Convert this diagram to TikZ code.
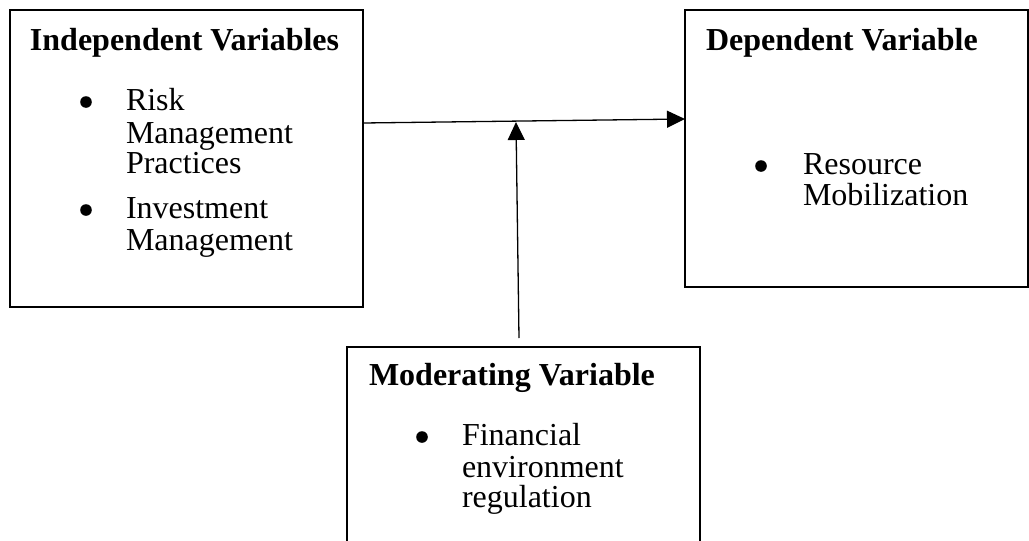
\documentclass[tikz,border=0pt]{standalone}
\usepackage{fontspec}
\setmainfont{Liberation Serif}
\usetikzlibrary{arrows.meta}

\tikzstyle{box} = [draw=black, line width=0.6pt, inner sep=0, outer sep=0]
\tikzstyle{txt} = [anchor=base west, inner sep=0, outer sep=0, font=\fontsize{16}{19}\selectfont]
\tikzstyle{head} = [txt, font=\fontsize{16}{19}\selectfont\bfseries]
\tikzstyle{dot} = [circle, fill=black, inner sep=0, outer sep=0, minimum size=5.8pt]
\tikzstyle{link} = [-{Triangle[length=9pt,width=8.5pt]}, draw=black, line width=0.65pt]

\begin{document}
\begin{tikzpicture}[x=0.5pt, y=-0.5pt]

\clip (0,0) rectangle (1029,541);

% BOXES
\node [box, minimum width=176.5pt, minimum height=148.5pt] (indep) at (186.5,158.5) {};
\node [box, minimum width=171.5pt, minimum height=138.5pt] (dep) at (856.5,148.5) {};
\node [box, minimum width=176.5pt, minimum height=136.5pt] (moder) at (523.5,483.5) {};

% INDEPENDENT
\node [head] (indep_t) at (30,50) {Independent Variables};
\node [dot] (indep_b1) at (86,102) {};
\node [txt] (indep_1a) at (126,110) {Risk};
\node [txt] (indep_1b) at (126,143) {Management};
\node [txt] (indep_1c) at (126,173) {Practices};
\node [dot] (indep_b2) at (86,210) {};
\node [txt] (indep_2a) at (126,218) {Investment};
\node [txt] (indep_2b) at (126,250) {Management};

% DEPENDENT
\node [head] (dep_t) at (706,50) {Dependent Variable};
\node [dot] (dep_b1) at (761,166) {};
\node [txt] (dep_1a) at (803,174) {Resource};
\node [txt] (dep_1b) at (803,205) {Mobilization};

% MODERATING
\node [head] (moder_t) at (369,385) {Moderating Variable};
\node [dot] (moder_b1) at (422,437) {};
\node [txt] (moder_1a) at (462,445) {Financial};
\node [txt] (moder_1b) at (462,477) {environment};
\node [txt] (moder_1c) at (462,507) {regulation};

% ARROWS
\coordinate (src) at (indep.east |- 0,123);
\coordinate (dst) at (dep.west |- 0,119);
\coordinate (meet) at (516,122);
\coordinate (foot) at (519,338);
\draw [link] (src) -- (dst);
\draw [link] (foot) -- (meet);

\end{tikzpicture}
\end{document}
